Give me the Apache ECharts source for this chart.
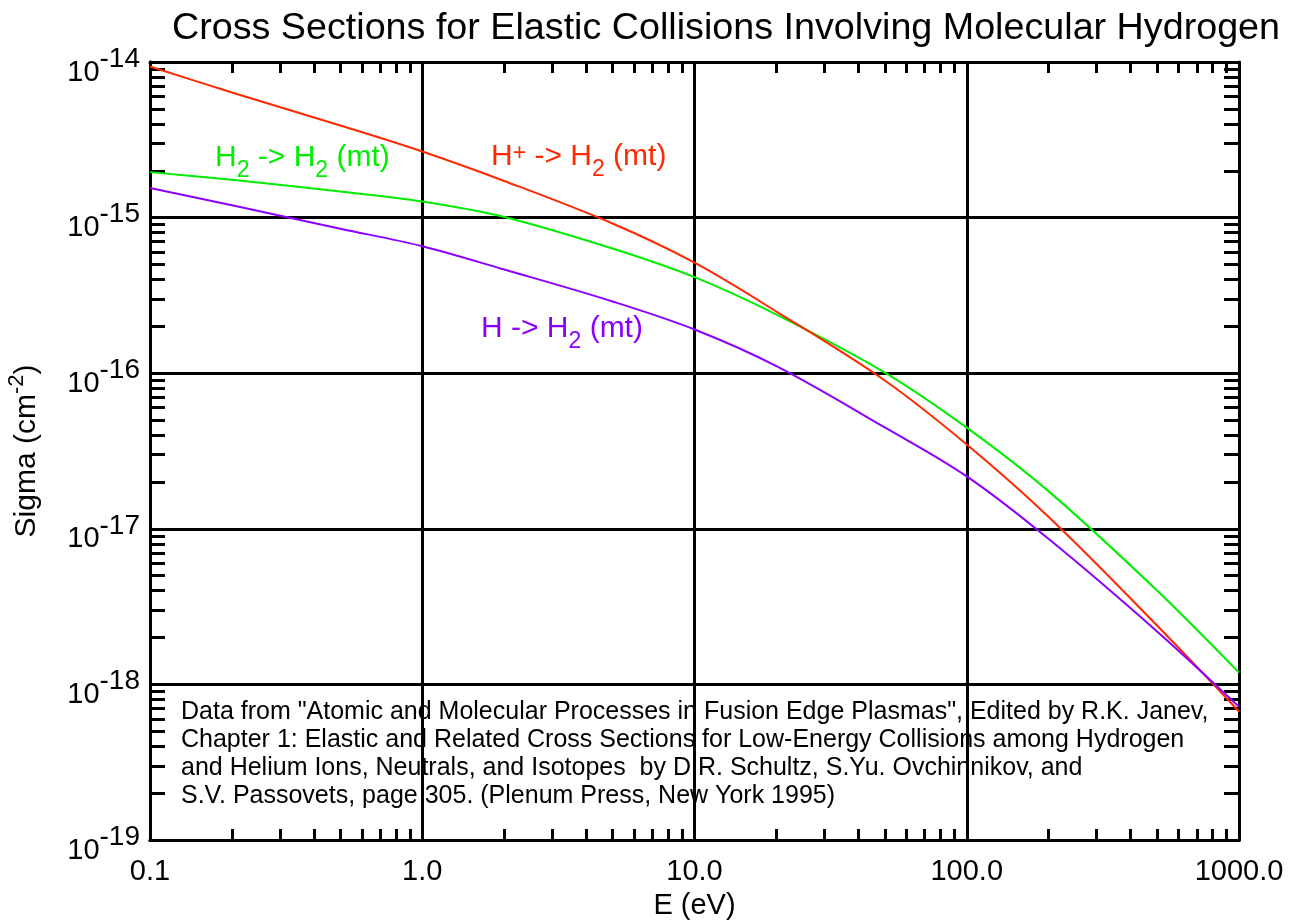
<!DOCTYPE html>
<html><head><meta charset="utf-8">
<script src="https://cdn.jsdelivr.net/npm/echarts@6/dist/echarts.min.js"></script>
<style>html,body{margin:0;padding:0;background:#fff}#c{width:1301px;height:920px}</style>
</head><body><div id="c"></div>
<script>
// ---- data ----
const energies = [0.1, 0.2, 0.5, 1, 2, 5, 10, 20, 50, 100, 200, 500, 1000];
const sigmaHplusH2 = [9.36e-15, 6.37e-15, 3.91e-15, 2.66e-15, 1.72e-15, 9.16e-16, 5.13e-16, 2.49e-16, 8.97e-17, 3.48e-17, 1.19e-17, 2.39e-18, 6.70e-19];
const sigmaH2H2    = [1.96e-15, 1.75e-15, 1.47e-15, 1.27e-15, 1.01e-15, 6.33e-16, 4.14e-16, 2.38e-16, 1.01e-16, 4.47e-17, 1.74e-17, 4.01e-18, 1.19e-18];
const sigmaHH2     = [1.55e-15, 1.20e-15, 8.49e-16, 6.55e-16, 4.64e-16, 2.89e-16, 1.91e-16, 1.11e-16, 4.48e-17, 2.17e-17, 8.59e-18, 2.19e-18, 7.18e-19];
const xTickLabels = ['0.1', '1.0', '10.0', '100.0', '1000.0'];
const xDecadeExps = [-1, 0, 1, 2, 3];
const yDecadeExps = [-19, -18, -17, -16, -15, -14];

const FONT = 'Liberation Sans, Arial, Helvetica, sans-serif';
const RED = '#ff2800', GREEN = '#00ee00', PURPLE = '#8c00ff';

function minorLogs(exps) {
  const out = [];
  for (let i = 0; i < exps.length - 1; i++)
    for (let k = 2; k <= 9; k++) out.push(exps[i] + Math.log10(k));
  return out;
}
function pairs(ys) { return energies.map((e, i) => [e, ys[i]]); }

const chart = echarts.init(document.getElementById('c'), null, {renderer: 'canvas'});

const axLine = {show: true, onZero: false, lineStyle: {color: '#000', width: 3}};
function tickAxis(pos, exps, len) {
  return {
    type: 'value', position: pos,
    min: exps[0], max: exps[exps.length - 1],
    axisLine: axLine,
    axisTick: {show: true, inside: true, length: len, customValues: minorLogs(exps),
               lineStyle: {color: '#000', width: 3}},
    axisLabel: {show: false}, splitLine: {show: false}
  };
}

const supRich = {
  b: {fontSize: 29, fontFamily: FONT, color: '#000', lineHeight: 34, verticalAlign: 'top', padding: [13, 0, 0, 0]},
  s: {fontSize: 28, fontFamily: FONT, color: '#000', lineHeight: 28, verticalAlign: 'top'}
};

function chemRich(color) {
  return {
    n: {fontSize: 30, fontFamily: FONT, fill: color, lineHeight: 34, verticalAlign: 'top'},
    sub: {fontSize: 23, fontFamily: FONT, fill: color, lineHeight: 23, verticalAlign: 'top', padding: [16, 0, 0, 0]},
    sup: {fontSize: 23, fontFamily: FONT, fill: color, lineHeight: 23, verticalAlign: 'top', padding: [0, 0, 0, 0]}
  };
}

const option = {
  backgroundColor: '#fff',
  animation: false,
  title: {
    text: 'Cross Sections for Elastic Collisions Involving Molecular Hydrogen',
    left: 721, top: 5, textAlign: 'center',
    textStyle: {fontFamily: FONT, fontSize: 37.7, fontWeight: 'normal', color: '#000'}
  },
  grid: {left: 150, right: 62, top: 62, bottom: 80, containLabel: false, outerBoundsMode: 'none'},
  xAxis: [
    {
      type: 'log', logBase: 10, min: 0.1, max: 1000, position: 'bottom',
      name: 'E (eV)', nameLocation: 'middle', nameGap: 51,
      nameTextStyle: {fontFamily: FONT, fontSize: 29, color: '#000'},
      axisLine: axLine, axisTick: {show: false},
      splitLine: {show: true, lineStyle: {color: '#000', width: 3}},
      axisLabel: {
        fontFamily: FONT, fontSize: 29, color: '#000', margin: 17,
        formatter: v => xTickLabels[xDecadeExps.indexOf(Math.round(Math.log10(v)))] || ''
      }
    },
    tickAxis('bottom', xDecadeExps, 11),
    tickAxis('top', xDecadeExps, 11)
  ],
  yAxis: [
    {
      type: 'log', logBase: 10, min: 1e-19, max: 1e-14, position: 'left',
      name: '{n|Sigma (cm}{s|-2}{n|)}', nameLocation: 'middle', nameGap: 110, nameRotate: 90,
      nameMoveOverlap: false,
      nameTextStyle: {
        fontFamily: FONT, fontSize: 30, color: '#000',
        rich: {
          n: {fontSize: 30, fontFamily: FONT, color: '#000', lineHeight: 34, verticalAlign: 'top', padding: [6, 0, 0, 0]},
          s: {fontSize: 22, fontFamily: FONT, color: '#000', lineHeight: 22, verticalAlign: 'top'}
        }
      },
      axisLine: axLine, axisTick: {show: false},
      splitLine: {show: true, lineStyle: {color: '#000', width: 3}},
      axisLabel: {
        margin: 10, color: '#000',
        formatter: v => '{b|10}{s|' + Math.round(Math.log10(v)) + '}',
        rich: supRich
      }
    },
    tickAxis('left', yDecadeExps, 15),
    tickAxis('right', yDecadeExps, 15)
  ],
  series: [
    {type: 'line', name: 'H+ -> H2', xAxisIndex: 0, yAxisIndex: 0, data: pairs(sigmaHplusH2),
     smooth: 0.35, showSymbol: false, lineStyle: {color: RED, width: 2}, z: 5},
    {type: 'line', name: 'H2 -> H2', xAxisIndex: 0, yAxisIndex: 0, data: pairs(sigmaH2H2),
     smooth: 0.35, showSymbol: false, lineStyle: {color: GREEN, width: 2}, z: 4},
    {type: 'line', name: 'H -> H2', xAxisIndex: 0, yAxisIndex: 0, data: pairs(sigmaHH2),
     smooth: 0.35, showSymbol: false, lineStyle: {color: PURPLE, width: 2}, z: 6}
  ],
  graphic: [
    {type: 'text', left: 215, top: 143, z: 10, style: {
      text: '{n|H}{sub|2}{n| -> H}{sub|2}{n| (mt)}', rich: chemRich(GREEN)}},
    {type: 'text', left: 491, top: 142, z: 10, style: {
      text: '{n|H}{sup|+}{n| -> H}{sub|2}{n| (mt)}', rich: chemRich(RED)}},
    {type: 'text', left: 481, top: 314, z: 10, style: {
      text: '{n|H -> H}{sub|2}{n| (mt)}', rich: chemRich(PURPLE)}},
    {type: 'text', left: 181, top: 698, z: 10, style: {
      text: 'Data from "Atomic and Molecular Processes in Fusion Edge Plasmas", Edited by R.K. Janev,\n' +
            'Chapter 1: Elastic and Related Cross Sections for Low-Energy Collisions among Hydrogen\n' +
            'and Helium Ions, Neutrals, and Isotopes  by D.R. Schultz, S.Yu. Ovchinnikov, and\n' +
            'S.V. Passovets, page 305. (Plenum Press, New York 1995)',
      fontFamily: FONT, fontSize: 25, lineHeight: 28, fill: '#000'}}
  ]
};
chart.setOption(option);
</script>
</body></html>
